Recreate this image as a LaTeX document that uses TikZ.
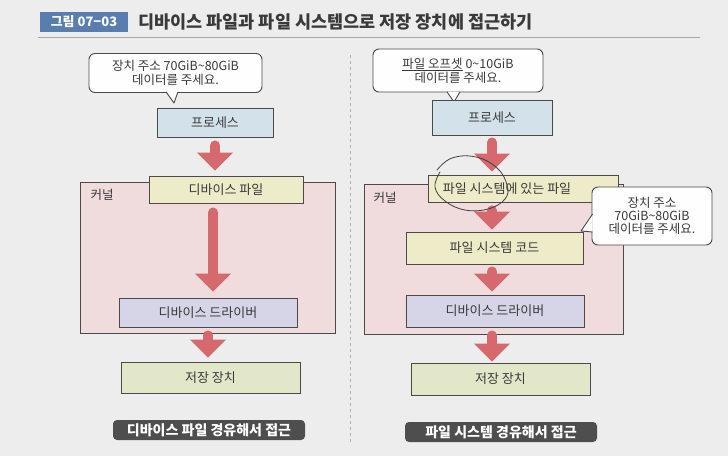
\documentclass[tikz,border=0pt]{standalone}
\usepackage{fontspec}
\setmainfont{Noto Sans CJK KR}
\usetikzlibrary{arrows.meta,calc}
\definecolor{paper}{HTML}{ECEDEC}
\definecolor{titleblue}{HTML}{5A7DB0}
\definecolor{procblue}{HTML}{D3E1EA}
\definecolor{fileyel}{HTML}{EEEBC8}
\definecolor{kernpink}{HTML}{F0DCDD}
\definecolor{drvlav}{HTML}{D6D4E7}
\definecolor{storgreen}{HTML}{E2E7CA}
\definecolor{arrred}{HTML}{D6696D}
\definecolor{labdark}{HTML}{4E4E4E}
\definecolor{edge}{HTML}{4A4A4A}
\definecolor{txt}{HTML}{3A3A3A}
\tikzset{
  boxtext/.style={font=\fontsize{13}{15}\selectfont, text=txt},
  blk/.style={draw=edge, line width=0.9pt, boxtext, inner sep=0pt},
  kernel/.style={draw=edge, line width=0.9pt, fill=kernpink, inner sep=0pt},
  bubble/.style={draw=edge, line width=0.9pt, fill=white!96!paper, rounded corners=6pt,
     align=center, font=\fontsize{12.5}{14}\selectfont, text=txt, inner sep=0pt},
  tailfill/.style={fill=white!96!paper},
  taildraw/.style={draw=edge, line width=0.9pt, line join=round},
  bigarrow/.style={draw=arrred, line width=10pt, line cap=round,
     -{Triangle[width=35pt,length=18pt]}},
  darklabel/.style={fill=labdark, rounded corners=4pt, text=white, inner sep=0pt,
     font=\fontsize{14}{16}\selectfont\bfseries},
  kernlabel/.style={font=\fontsize{12.5}{14}\selectfont, text=txt, inner sep=0pt},
}
\begin{document}
\begin{tikzpicture}[x=1pt,y=-1pt]
\useasboundingbox[fill=paper] (0,0) rectangle (728,456);

% title
\node[fill=titleblue, text=white, minimum width=88pt, minimum height=20pt, inner sep=0pt,
  font=\fontsize{13}{15}\selectfont\bfseries] (tb) at (84,21.5) {그림 07−03};
\node[anchor=west, inner sep=0pt, text=txt, font=\fontsize{17.5}{19}\selectfont\bfseries]
  (tt) at (138,21.5) {디바이스 파일과 파일 시스템으로 저장 장치에 접근하기};
\draw[line width=0.8pt, draw=gray!70] (38,37) -- (700,37);

% divider
\draw[dashed, draw=gray!60, line width=0.6pt] (350,55) -- (350,442);

% ---------------- left ----------------
\node[kernel, minimum width=255pt, minimum height=151pt] (k1) at (207.5,257.5) {};
\node[kernlabel] (kl1) at (102,195) {커널};

\node[bubble, minimum width=173pt, minimum height=39pt] (b1) at (175.5,73)
  {장치 주소 70GiB\textasciitilde 80GiB\\[0pt]데이터를 주세요.};
\coordinate (t1a) at (166,91.8);
\coordinate (t1t) at (174,103);
\coordinate (t1b) at (178,91.8);
\fill[tailfill] (t1a) -- (t1t) -- (t1b) -- cycle;
\draw[taildraw] (t1a) -- (t1t) -- (t1b);

\node[blk, fill=procblue, minimum width=116pt, minimum height=29pt] (p1) at (215,122.5) {프로세스};
\node[blk, fill=fileyel, minimum width=154pt, minimum height=27pt] (f1) at (226,189.5) {디바이스 파일};
\node[blk, fill=drvlav, minimum width=178pt, minimum height=29pt] (d1) at (208,312.5) {디바이스 드라이버};
\node[blk, fill=storgreen, minimum width=179pt, minimum height=31pt] (s1) at (210.5,377.5) {저장 장치};
\node[darklabel, minimum width=192pt, minimum height=20pt] (l1) at (209,430) {디바이스 파일 경유해서 접근};

\draw[bigarrow] ([yshift=-8pt]p1.south) -- ([yshift=5pt]p1.south |- f1.north);
\draw[bigarrow] ([xshift=-13pt,yshift=-9pt]f1.south) -- ([xshift=-13pt,yshift=6pt]f1.south |- d1.north);
\draw[bigarrow] ([yshift=-8pt]d1.south) -- ([yshift=4pt]d1.south |- s1.north);

% ---------------- right ----------------
\node[kernel, minimum width=259pt, minimum height=150pt] (k2) at (493.5,259) {};
\node[kernlabel] (kl2) at (385,198) {커널};

\node[bubble, minimum width=170pt, minimum height=43pt] (b2) at (458,70.5)
  {\underline{파일 오프셋} 0\textasciitilde 10GiB\\[0pt]데이터를 주세요.};
\coordinate (t2a) at (447,91.8);
\coordinate (t2t) at (454,102);
\coordinate (t2b) at (460,91.8);
\fill[tailfill] (t2a) -- (t2t) -- (t2b) -- cycle;
\draw[taildraw] (t2a) -- (t2t) -- (t2b);

\node[blk, fill=procblue, minimum width=120pt, minimum height=35pt] (p2) at (492,117.5) {프로세스};
\node[blk, fill=fileyel, minimum width=190pt, minimum height=27pt] (f2) at (523,188.5) {파일 시스템에 있는 파일\hspace*{32pt}};
\node[blk, fill=fileyel, minimum width=177pt, minimum height=32pt] (c2) at (494.5,248) {파일 시스템 코드};
\node[blk, fill=drvlav, minimum width=178pt, minimum height=32pt] (d2) at (495,311) {디바이스 드라이버};
\node[blk, fill=storgreen, minimum width=179pt, minimum height=32pt] (s2) at (500.5,379) {저장 장치};
\node[darklabel, minimum width=192pt, minimum height=20pt] (l2) at (501,432) {파일 시스템 경유해서 접근};

\node[bubble, minimum width=120pt, minimum height=58pt] (b3) at (652,216)
  {장치 주소\\[-1pt]70GiB\textasciitilde 80GiB\\[-1pt]데이터를 주세요.};
\coordinate (t3a) at (592.6,214);
\coordinate (t3t) at (581,231);
\coordinate (t3b) at (592.6,232);
\fill[tailfill] (t3a) -- (t3t) -- (t3b) -- cycle;
\draw[taildraw] (t3a) -- (t3t) -- (t3b);

\draw[bigarrow] ([yshift=-7pt]p2.south) -- ([yshift=3pt]p2.south |- f2.north);
\draw[bigarrow] ([yshift=-8pt]p2.south |- f2.south) -- ([yshift=2pt]p2.south |- c2.north);
\draw[bigarrow] ([yshift=-7pt]p2.south |- c2.south) -- ([yshift=3pt]p2.south |- d2.north);
\draw[bigarrow] ([yshift=-8pt]p2.south |- d2.south) -- ([yshift=1pt]p2.south |- s2.north);

% hand-drawn circle
\draw[line width=0.8pt, draw=black!75, line cap=round]
  plot[smooth, tension=0.7] coordinates {(437,170) (452,158) (476,157) (497,168) (507,185)
    (505,199) (488,209) (465,210) (445,201) (435,187) (440,172)};
\end{tikzpicture}
\end{document}
